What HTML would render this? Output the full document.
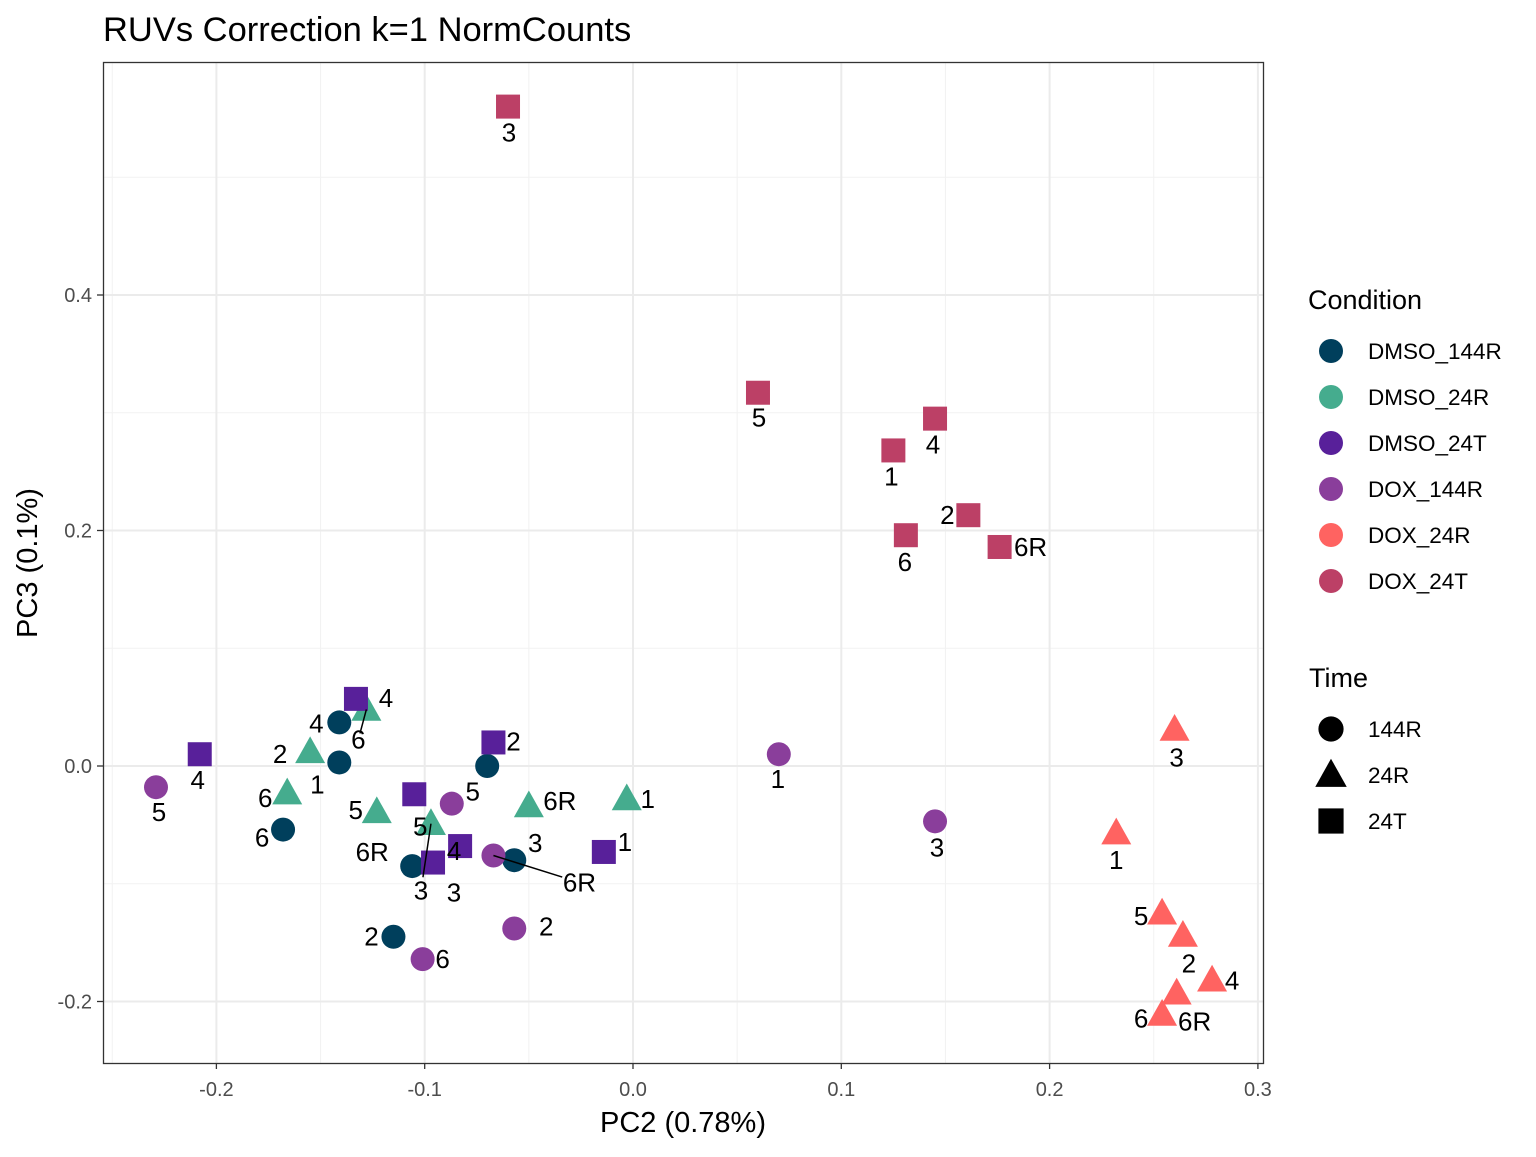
<!DOCTYPE html>
<html><head><meta charset="utf-8"><style>
body{margin:0;background:#fff;}
svg text{font-family:"Liberation Sans",Arial,sans-serif;}
</style></head><body>
<svg id="c" width="1536" height="1152" xmlns="http://www.w3.org/2000/svg">
<rect width="1536" height="1152" fill="#fff"/>
<text x="103" y="41" font-size="34.5" fill="#000">RUVs Correction k=1 NormCounts</text>
<g id="grid"></g>
<g id="marks"></g>
<rect x="103.5" y="62.5" width="1160" height="1001" fill="none" stroke="#333" stroke-width="1.3"/>
<g id="axes"></g>
<text x="683" y="1132" font-size="29" text-anchor="middle" fill="#000">PC2 (0.78%)</text>
<text transform="translate(37,563) rotate(-90)" font-size="29" text-anchor="middle" fill="#000">PC3 (0.1%)</text>
<g id="legend"></g>
</svg>
<script>
const groups=["DMSO_144R","DMSO_24R","DMSO_24T","DOX_144R","DOX_24R","DOX_24T"];
const colors=["#003f5c","#45ac8e","#58209a","#8a3e9b","#ff6361","#bc4066"];
const shapes=["circle","triangle","square","circle","triangle","square"];
const timeLevels=["144R","24R","24T"];
const xTicks=[-0.2,-0.1,0.0,0.1,0.2,0.3];
const xTickLabels=["-0.2","-0.1","0.0","0.1","0.2","0.3"];
const yTicks=[0.4,0.2,0.0,-0.2];
const yTickLabels=["0.4","0.2","0.0","-0.2"];
const pc2=[
[-0.141,-0.141,-0.070,-0.168,-0.106,-0.057,-0.115],
[-0.128,-0.155,-0.166,-0.123,-0.097,-0.050,-0.003],
[-0.133,-0.208,-0.067,-0.105,-0.096,-0.083,-0.014],
[-0.229,-0.087,-0.067,-0.057,-0.101,0.070,0.145],
[0.260,0.232,0.254,0.264,0.278,0.261,0.254],
[-0.060,0.060,0.145,0.125,0.161,0.131,0.176]];
const pc3=[
[0.037,0.003,0.000,-0.054,-0.085,-0.080,-0.145],
[0.048,0.012,-0.023,-0.039,-0.049,-0.034,-0.028],
[0.057,0.010,0.020,-0.024,-0.082,-0.068,-0.073],
[-0.018,-0.032,-0.076,-0.138,-0.164,0.010,-0.047],
[0.031,-0.057,-0.125,-0.144,-0.182,-0.193,-0.211],
[0.560,0.317,0.295,0.268,0.213,0.196,0.186]];
const labels=[
["4","1","","6","6R","3","2"],
["6","2","6","5","3","6R","1"],
["4","4","2","5","3","4","1"],
["5","5","6R","2","6","1","3"],
["3","1","5","2","4","6R","6"],
["3","5","4","1","2","6","6R"]];
// label offsets and leader flags (pixels, styling only)
const ldx=[[-23,-22,0,-21,-40,21,-22],[-8,-30,-22,-21,-10,31,21],[30,-2,20,6,21,-6,21],[3,21,86,32,20,-1,2],[2,0,-21,6,20,18,-21],[1,1,-2,-2,-21,-1,31]];
const ldy=[[1,22,0,8,-14,-17,0],[30,2,5,-2,67,-5,0],[-1,26,-1,32,30,5,-10],[25,-12,27,-2,0,25,26],[28,27,3,28,0,28,4],[26,25,26,26,0,27,0]];
const leader=[[0,0,0,0,0,0,0],[1,0,0,0,1,0,0],[0,0,0,0,0,0,0],[0,0,1,0,0,0,0],[0,0,0,0,0,0,0],[0,0,0,0,0,0,0]];
const X0=103,X1=1263,Y0=62,Y1=1063;
const xs=v=>633+v*2083, ys=v=>766-v*1177.5;
const NS="http://www.w3.org/2000/svg";
function mk(tag,attrs,parent){const e=document.createElementNS(NS,tag);for(const k in attrs)e.setAttribute(k,attrs[k]);parent.appendChild(e);return e;}
const grid=document.getElementById('grid');
const minX=[-0.25,-0.15,-0.05,0.05,0.15,0.25], minY=[0.5,0.3,0.1,-0.1];
minX.forEach(v=>{const l=mk('line',{x1:xs(v),x2:xs(v),y1:Y0,y2:Y1,stroke:'#f2f2f2','stroke-width':1},grid);

});
minY.forEach(v=>{const l=mk('line',{x1:X0,x2:X1,y1:ys(v),y2:ys(v),stroke:'#f2f2f2','stroke-width':1},grid);

});
xTicks.forEach(v=>{const l=mk('line',{x1:xs(v),x2:xs(v),y1:Y0,y2:Y1,stroke:'#ebebeb','stroke-width':2},grid);

});
yTicks.forEach(v=>{const l=mk('line',{x1:X0,x2:X1,y1:ys(v),y2:ys(v),stroke:'#ebebeb','stroke-width':2},grid);

});
const axes=document.getElementById('axes');
xTicks.forEach((v,i)=>{const t=mk('line',{x1:xs(v),x2:xs(v),y1:Y1,y2:Y1+6,stroke:'#333','stroke-width':1.3},axes);


const tx=mk('text',{x:xs(v),y:Y1+33,'font-size':20,'text-anchor':'middle',fill:'#4d4d4d'},axes);tx.textContent=xTickLabels[i];

});
yTicks.forEach((v,i)=>{const t=mk('line',{x1:X0-6,x2:X0,y1:ys(v),y2:ys(v),stroke:'#333','stroke-width':1.3},axes);


const tx=mk('text',{x:X0-11,y:ys(v)+7,'font-size':20,'text-anchor':'end',fill:'#4d4d4d'},axes);tx.textContent=yTickLabels[i];

});
function shape(kind,cx,cy,col,parent,s){
 s=s||1;
 if(kind==='circle')return mk('circle',{cx:cx,cy:cy,r:12*s,fill:col},parent);
 if(kind==='square')return mk('rect',{x:cx-12*s,y:cy-12*s,width:24*s,height:24*s,fill:col},parent);
 const h=25*s,w=15*s;return mk('polygon',{points:`${cx},${cy-h*0.62} ${cx-w},${cy+h*0.45} ${cx+w},${cy+h*0.45}`,fill:col},parent);
}
const marks=document.getElementById('marks');
const lblG=mk('g',{},marks);
groups.forEach((g,gi)=>{
 pc2[gi].forEach((v,i)=>{
  const cx=xs(v),cy=ys(pc3[gi][i]);
  const p=shape(shapes[gi],cx,cy,colors[gi],marks);
  
  
  if(!labels[gi][i])return;
  const dx=ldx[gi][i],dy=ldy[gi][i];
  if(leader[gi][i]){const ln=mk('line',{x1:cx,y1:cy,x2:cx+dx*0.8,y2:cy+dy*0.8,stroke:'#000','stroke-width':1.5},lblG);
   
   }
  const t=mk('text',{x:cx+dx,y:cy+dy+9,'font-size':26,'text-anchor':'middle',fill:'#000'},lblG);
  t.textContent=labels[gi][i];
  
  
 });
});
marks.appendChild(lblG);
const lg=document.getElementById('legend');
const lt=mk('text',{x:1308,y:309,'font-size':27,fill:'#000'},lg);lt.textContent='Condition';


groups.forEach((g,i)=>{const y=351+i*46;
 const c=mk('circle',{cx:1331,cy:y,r:12,fill:colors[i]},lg);
 
 
 const t=mk('text',{x:1368,y:y+8,'font-size':22.5,fill:'#000'},lg);t.textContent=g;
 
 });
const tt=mk('text',{x:1309,y:687,'font-size':27,fill:'#000'},lg);tt.textContent='Time';


timeLevels.forEach((g,i)=>{const y=729+i*46;
 const s=shape(["circle","triangle","square"][i],1331,y,'#000',lg,1.05);
 
 
 const t=mk('text',{x:1368,y:y+8,'font-size':22.5,fill:'#000'},lg);t.textContent=g;
 
 });
</script>
</body></html>
